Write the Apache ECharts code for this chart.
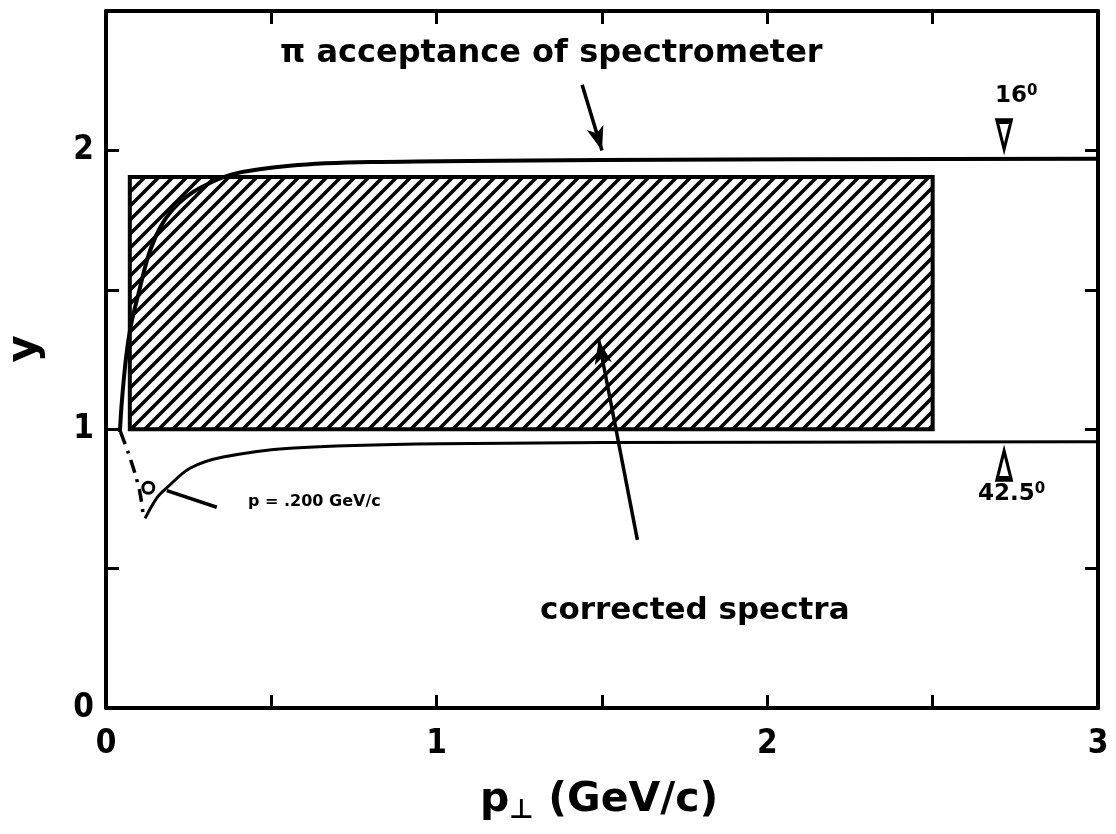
<!DOCTYPE html>
<html>
<head>
<meta charset="utf-8">
<script src="https://cdn.jsdelivr.net/npm/echarts@6/dist/echarts.min.js"></script>
<style>
  html, body { margin: 0; padding: 0; background: #fff; }
  #chart { width: 1116px; height: 834px; }
</style>
</head>
<body>
<div id="chart"></div>
<script>
// acceptance curves
const upperX = [0.042, 0.048, 0.06, 0.075, 0.097, 0.133, 0.172, 0.22, 0.284, 0.384, 0.556, 0.8, 1.5, 3.0];
const upperY = [0.99, 1.1, 1.25, 1.37, 1.48, 1.64, 1.74, 1.81, 1.865, 1.915, 1.945, 1.958, 1.966, 1.97];
const dashX = [0.044, 0.066, 0.088, 0.103, 0.113];
const dashY = [0.99, 0.92, 0.84, 0.77, 0.69];
const lowerX = [0.118, 0.154, 0.184, 0.254, 0.354, 0.556, 1.01, 2.0, 3.0];
const lowerY = [0.68, 0.754, 0.79, 0.86, 0.9, 0.932, 0.948, 0.953, 0.955];
// corrected spectra box
const boxX = [0.072, 2.5];
const boxY = [1.0, 1.905];
// tick labels
const xTicks = [0, 1, 2, 3];
const yTicks = [0, 1, 2];

const zip = (xs, ys) => xs.map((x, i) => [x, ys[i]]);

// hatch pattern
const hatch = document.createElement('canvas');
hatch.width = 14; hatch.height = 14;
const hc = hatch.getContext('2d');
hc.fillStyle = '#fff';
hc.fillRect(0, 0, 14, 14);
hc.strokeStyle = '#000';
hc.lineWidth = 3.5;
[-14, 0, 14].forEach(function (d) {
    hc.beginPath();
    hc.moveTo(d - 2, 16);
    hc.lineTo(d + 16, -2);
    hc.stroke();
});

const FONT = 'DejaVu Sans Condensed';
const tickStyle = { inside: true, length: 13, lineStyle: { color: '#000', width: 3 } };
const lineStyleAxis = { show: true, onZero: false, lineStyle: { color: '#000', width: 4 } };

let chart = echarts.init(document.getElementById('chart'));

let option = {
    animation: false,
    backgroundColor: '#fff',
    grid: { left: 106, right: 18, top: 11, bottom: 126 },
    xAxis: [{
        type: 'value', min: 0, max: 3, interval: 0.5, position: 'bottom',
        axisLine: lineStyleAxis,
        axisTick: tickStyle,
        splitLine: { show: false },
        axisLabel: {
            color: '#000', fontFamily: FONT, fontWeight: 'bold', fontSize: 33, margin: 20,
            formatter: v => xTicks.indexOf(v) >= 0 ? String(v) : ''
        }
    }, {
        type: 'value', min: 0, max: 3, interval: 0.5, position: 'top',
        axisLine: lineStyleAxis,
        axisTick: tickStyle,
        splitLine: { show: false },
        axisLabel: { show: false }
    }],
    yAxis: [{
        type: 'value', min: 0, max: 2.5, interval: 0.5, position: 'left',
        axisLine: lineStyleAxis,
        axisTick: Object.assign({ show: true }, tickStyle),
        splitLine: { show: false },
        axisLabel: {
            color: '#000', fontFamily: FONT, fontWeight: 'bold', fontSize: 33, margin: 12,
            formatter: v => yTicks.indexOf(v) >= 0 ? String(v) : ''
        }
    }, {
        type: 'value', min: 0, max: 2.5, interval: 0.5, position: 'right',
        axisLine: lineStyleAxis,
        axisTick: Object.assign({ show: true }, tickStyle),
        splitLine: { show: false },
        axisLabel: { show: false }
    }],
    series: [
        {
            type: 'custom',
            data: [[boxX[0], boxY[0], boxX[1], boxY[1]]],
            renderItem: function (params, api) {
                let p0 = api.coord([api.value(0), api.value(3)]);
                let p1 = api.coord([api.value(2), api.value(1)]);
                return {
                    type: 'rect',
                    shape: { x: p0[0], y: p0[1], width: p1[0] - p0[0], height: p1[1] - p0[1] },
                    style: { fill: { image: hatch, repeat: 'repeat' }, stroke: '#000', lineWidth: 4 }
                };
            },
            z: 1
        },
        {
            type: 'line', data: zip(upperX, upperY), smooth: 0.35, symbol: 'none',
            lineStyle: { color: '#000', width: 4 }, z: 3
        },
        {
            type: 'line', data: zip(dashX, dashY), smooth: 0.3, symbol: 'none',
            lineStyle: { color: '#000', width: 3.5, type: [13, 7, 3, 7] }, z: 3
        },
        {
            type: 'line', data: zip(lowerX, lowerY), smooth: 0.35, symbol: 'none',
            lineStyle: { color: '#000', width: 3 }, z: 3,
            markLine: {
                silent: true, symbol: ['none', 'arrow'], symbolSize: [13, 24],
                label: { show: false },
                lineStyle: { color: '#000', width: 3.5, type: 'solid' },
                data: [
                    [{ coord: [1.44, 2.235] }, { coord: [1.5, 2.0] }],
                    [{ coord: [1.607, 0.603] }, { coord: [1.49, 1.32] }],
                    [{ coord: [0.184, 0.78], symbol: 'none' }, { coord: [0.335, 0.72], symbol: 'none' }]
                ]
            }
        },
        {
            type: 'scatter', symbol: 'triangle', symbolRotate: 180, symbolSize: [14, 28],
            data: [[2.716, 2.055]],
            itemStyle: { color: '#fff', borderColor: '#000', borderWidth: 4, opacity: 1 }, z: 4
        },
        {
            type: 'scatter', symbol: 'triangle', symbolSize: [14, 28],
            data: [[2.716, 0.872]],
            itemStyle: { color: '#fff', borderColor: '#000', borderWidth: 4, opacity: 1 }, z: 4
        },
        {
            type: 'scatter', symbol: 'circle', symbolSize: 11,
            data: [[0.128, 0.79]],
            itemStyle: { color: '#fff', borderColor: '#000', borderWidth: 3, opacity: 1 }, z: 4
        }
    ],
    graphic: [
        { type: 'text', left: 280, top: 38, style: { text: 'π acceptance of spectrometer', font: 'bold 32px "DejaVu Sans"', fill: '#000' } },
        { type: 'text', left: 540, top: 595, style: { text: 'corrected spectra', font: 'bold 31px "DejaVu Sans"', fill: '#000' } },
        { type: 'text', left: 248, top: 494, style: { text: 'p = .200 GeV/c', font: 'bold 16px "DejaVu Sans"', fill: '#000' } },
        {
            type: 'text', left: 995, top: 84,
            style: {
                text: '{a|16}{b|0}', fill: '#000',
                rich: { a: { font: 'bold 23px "DejaVu Sans"' }, b: { font: 'bold 15px "DejaVu Sans"', verticalAlign: 'top', padding: [0, 0, 10, 0] } }
            }
        },
        {
            type: 'text', left: 978, top: 482,
            style: {
                text: '{a|42.5}{b|0}', fill: '#000',
                rich: { a: { font: 'bold 23px "DejaVu Sans"' }, b: { font: 'bold 15px "DejaVu Sans"', verticalAlign: 'top', padding: [0, 0, 10, 0] } }
            }
        },
        { type: 'text', left: 4, top: 335, rotation: Math.PI / 2, style: { text: 'y', font: 'bold 42px "DejaVu Sans"', fill: '#000' } },
        {
            type: 'text', left: 480, top: 780,
            style: {
                text: '{a|p}{b|⊥}{a| (GeV/c)}', fill: '#000',
                rich: { a: { font: 'bold 41px "DejaVu Sans"' }, b: { font: 'bold 27px "DejaVu Sans"', padding: [20, 0, 0, 0] } }
            }
        }
    ]
};

chart.setOption(option);
</script>
</body>
</html>
